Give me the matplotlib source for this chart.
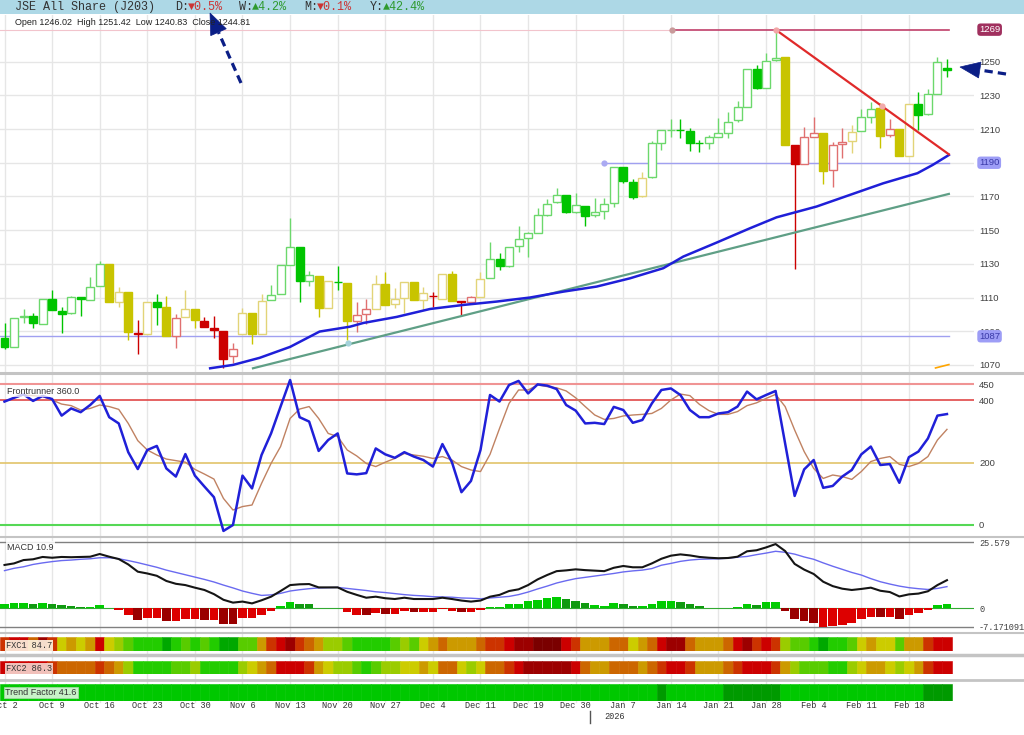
"""JSE All Share (J203) daily chart with Frontrunner, MACD and FXC strips."""
import numpy as np
import matplotlib
matplotlib.use("Agg")
import matplotlib.pyplot as plt
from matplotlib.patches import Rectangle, Polygon

W, H = 1024, 735
MONO = ["Liberation Mono", "DejaVu Sans Mono"]
SANS = ["Liberation Sans", "DejaVu Sans"]

# ---- price candles (trading days from Oct 2 2025) ----
OPEN = [1086.2, 1080.9, 1098.3, 1099.1, 1094.5, 1109.4, 1102.1, 1100.7, 1110.2, 1108.8,
        1116.7, 1129.9, 1107.6, 1113.1, 1088.8, 1088.6, 1107.2, 1104.2, 1087.2, 1098.3,
        1103.2, 1096.3, 1092.2, 1090.4, 1075.2, 1088.2, 1100.7, 1088.6, 1108.4, 1111.8,
        1129.4, 1140.2, 1120.1, 1123.0, 1104.0, 1119.5, 1118.9, 1096.3, 1100.1, 1103.1,
        1118.3, 1106.0, 1109.8, 1119.1, 1108.4, 1111.0, 1109.2, 1124.2, 1107.8, 1107.4,
        1110.6, 1121.4, 1132.9, 1128.9, 1140.4, 1145.2, 1148.5, 1159.0, 1166.5, 1170.7,
        1160.6, 1164.6, 1158.8, 1161.4, 1166.0, 1187.3, 1178.8, 1170.3, 1181.8, 1201.6,
        1209.5, 1209.5, 1208.9, 1201.8, 1201.6, 1205.5, 1207.5, 1215.4, 1223.3, 1245.7,
        1234.6, 1251.0, 1252.6, 1200.6, 1189.1, 1205.1, 1207.9, 1185.7, 1201.0, 1202.9,
        1208.9, 1217.4, 1222.3, 1206.5, 1209.9, 1194.2, 1224.9, 1218.8, 1230.6, 1246.02]
HIGH = [1094.7, 1097.7, 1103.0, 1100.7, 1109.4, 1114.5, 1104.6, 1111.2, 1110.6, 1122.0,
        1131.7, 1129.9, 1116.1, 1113.1, 1096.7, 1107.2, 1111.9, 1111.2, 1100.3, 1114.5,
        1103.2, 1098.7, 1099.3, 1090.4, 1083.3, 1103.6, 1100.7, 1112.3, 1117.5, 1128.8,
        1157.1, 1140.2, 1125.8, 1123.0, 1120.1, 1128.8, 1118.9, 1107.2, 1109.0, 1123.4,
        1125.0, 1115.7, 1119.1, 1119.1, 1116.5, 1113.5, 1124.2, 1125.6, 1108.2, 1111.2,
        1125.4, 1143.0, 1136.3, 1140.2, 1152.5, 1149.1, 1163.4, 1168.3, 1175.2, 1170.7,
        1171.9, 1164.6, 1168.9, 1168.9, 1187.3, 1187.3, 1180.6, 1184.3, 1203.0, 1209.5,
        1216.0, 1216.0, 1210.5, 1203.5, 1206.5, 1216.4, 1220.4, 1226.7, 1245.7, 1248.0,
        1255.0, 1268.8, 1252.6, 1200.6, 1211.1, 1217.4, 1207.9, 1202.2, 1210.5, 1212.4,
        1221.7, 1226.3, 1225.3, 1215.8, 1209.9, 1224.9, 1232.2, 1233.6, 1253.0, 1251.42]
LOW = [1079.3, 1080.5, 1094.7, 1091.8, 1094.1, 1102.3, 1088.8, 1100.3, 1099.3, 1108.8,
       1116.7, 1107.4, 1104.6, 1084.5, 1076.3, 1088.6, 1093.8, 1087.4, 1079.9, 1098.3,
       1091.8, 1092.6, 1085.8, 1068.0, 1071.0, 1088.2, 1082.5, 1088.6, 1108.4, 1111.8,
       1129.4, 1107.4, 1116.9, 1098.5, 1103.6, 1114.5, 1084.9, 1089.8, 1094.3, 1103.1,
       1105.8, 1104.0, 1101.1, 1108.4, 1102.3, 1104.6, 1109.2, 1108.2, 1099.7, 1107.4,
       1110.6, 1121.4, 1126.4, 1128.4, 1137.3, 1134.3, 1148.5, 1158.6, 1166.3, 1160.0,
       1160.0, 1152.5, 1158.0, 1156.7, 1164.0, 1178.2, 1168.5, 1169.9, 1181.2, 1197.6,
       1205.5, 1204.5, 1197.2, 1196.2, 1198.2, 1205.5, 1204.5, 1214.4, 1222.9, 1233.8,
       1234.6, 1250.6, 1200.6, 1126.8, 1189.1, 1205.1, 1177.2, 1175.8, 1192.7, 1196.0,
       1208.9, 1213.4, 1198.6, 1205.5, 1194.2, 1194.2, 1209.5, 1218.4, 1230.6, 1240.83]
CLOSE = [1080.9, 1097.7, 1099.0, 1094.7, 1109.4, 1102.3, 1100.3, 1110.4, 1109.0, 1116.3,
         1129.9, 1107.4, 1113.1, 1089.4, 1088.6, 1107.2, 1104.4, 1087.4, 1097.7, 1103.2,
         1096.7, 1092.6, 1090.6, 1073.6, 1079.3, 1100.7, 1088.6, 1108.0, 1111.4, 1129.4,
         1140.2, 1119.9, 1123.2, 1104.0, 1120.1, 1119.3, 1096.3, 1099.9, 1102.9, 1118.3,
         1105.8, 1109.4, 1119.1, 1108.4, 1112.9, 1110.8, 1124.2, 1108.2, 1107.6, 1110.4,
         1121.1, 1133.1, 1128.9, 1140.2, 1145.0, 1148.5, 1158.8, 1165.6, 1170.7, 1160.8,
         1164.8, 1158.4, 1160.8, 1165.8, 1187.3, 1179.4, 1169.9, 1181.2, 1201.6, 1209.5,
         1209.7, 1209.3, 1202.0, 1201.6, 1205.5, 1207.9, 1214.4, 1222.9, 1245.7, 1234.2,
         1250.6, 1252.4, 1200.6, 1189.3, 1205.1, 1207.9, 1185.1, 1200.6, 1202.5, 1208.5,
         1217.0, 1221.7, 1205.9, 1209.9, 1194.2, 1224.9, 1218.4, 1230.6, 1250.0, 1244.81]
# trend colour of each candle: G green, Y yellow, R red
REGIME = ("GGGGGGGGGGG" "YYY" "R" "Y" "G" "Y" "R" "YY" "RRRR" "YYY" "GGGGG" "YY" "G" "Y"
          "RR" "YYYYYY" "R" "YY" "RR" "Y" "GGGGGGGGGGGGGGGG" "Y" "GGGGGGGGGGGGGG" "Y"
          "RRR" "Y" "RR" "Y" "GG" "Y" "R" "YY" "GGGG")

DATE_LABELS = ["Oct 2", "Oct 9", "Oct 16", "Oct 23", "Oct 30", "Nov 6", "Nov 13",
               "Nov 20", "Nov 27", "Dec 4", "Dec 11", "Dec 19", "Dec 30", "Jan 7",
               "Jan 14", "Jan 21", "Jan 28", "Feb 4", "Feb 11", "Feb 18"]
YEAR_BREAK = 61.5  # between Dec 31 and Jan 2

# moving average (bar index, price)
MA_X = [21.6, 24.0, 26.8, 30.0, 33.1, 36.3, 37.7, 41.2, 44.7, 48.2, 51.7, 55.2, 58.7,
        62.2, 65.7, 69.2, 71.3, 74.8, 78.3, 81.1, 85.3, 88.8, 92.3, 95.9, 97.5, 99.2]
MA_Y = [1068.0, 1070.0, 1074.2, 1080.7, 1089.8, 1092.7, 1094.9, 1098.5, 1103.2, 1105.6,
        1107.6, 1110.0, 1113.5, 1116.5, 1121.4, 1127.4, 1134.3, 1142.6, 1151.1, 1157.6,
        1164.0, 1170.9, 1177.8, 1183.8, 1188.7, 1194.6]
SUPPORT_X = [26.1, 99.2]
SUPPORT_Y = [1068.0, 1171.5]
RESIST_X = [81.0, 99.2]
RESIST_Y = [1269.0, 1195.0]
ORANGE_X = [97.8, 99.2]
ORANGE_Y = [1068.2, 1070.2]
LEVEL_HIGH, LEVEL_HIGH_FROM = 1269, 70.1
LEVEL_MID, LEVEL_MID_FROM = 1190, 63.0
LEVEL_LOW = 1087
ANCHOR_X = [70.1, 81.0, 63.0, 36.1, 92.2]
ANCHOR_Y = [1269.0, 1269.0, 1190.0, 1082.9, 1223.4]
ANCHOR_C = ["#c89a9a", "#f2a6a6", "#aaaaf2", "#a4d2da", "#f2aaaa"]
PRICE_TICKS = [1070, 1090, 1110, 1130, 1150, 1170, 1190, 1210, 1230, 1250]

# ---- Frontrunner 360 ----
FR_FAST = [395, 407, 418, 397, 413, 403, 350, 373, 361, 384,
           413, 345, 325, 233, 179, 240, 253, 181, 155, 227,
           158, 123, 89, -19, 0, 158, 117, 224, 293, 379,
           464, 345, 331, 237, 272, 293, 165, 162, 166, 245,
           226, 215, 233, 219, 208, 187, 259, 201, 105, 141,
           240, 416, 395, 448, 461, 421, 450, 446, 435, 384,
           366, 325, 327, 323, 378, 368, 327, 336, 389, 432,
           437, 416, 368, 345, 345, 357, 361, 379, 427, 402,
           416, 429, 261, 93, 178, 208, 119, 125, 155, 176,
           226, 251, 192, 195, 135, 217, 235, 277, 350, 355]
FR_SLOW = [395, 407, 416, 414, 411, 400, 387, 382, 368, 373,
           384, 379, 370, 325, 270, 240, 224, 211, 206, 201,
           178, 163, 147, 85, 48, 59, 64, 133, 197, 251,
           341, 371, 379, 341, 293, 283, 240, 221, 197, 187,
           201, 213, 229, 224, 220, 213, 219, 208, 187, 176,
           171, 226, 309, 389, 432, 432, 448, 443, 439, 429,
           407, 379, 352, 338, 341, 349, 352, 354, 357, 373,
           400, 419, 414, 386, 366, 354, 354, 363, 382, 391,
           405, 418, 379, 304, 235, 181, 149, 160, 155, 146,
           171, 203, 213, 219, 194, 187, 197, 219, 272, 306]
FR_LEVELS = [450, 400, 200, 0]

# ---- MACD ----
MACD = [16.8, 17.4, 18.7, 19.0, 19.9, 19.6, 19.9, 19.8, 19.9, 20.0,
        21.05, 20.0, 19.1, 17.0, 14.2, 13.5, 12.6, 10.6, 9.5, 9.0,
        8.0, 7.1, 5.5, 3.3, 2.2, 2.6, 1.9, 3.1, 4.5, 6.7,
        9.0, 9.3, 9.4, 8.1, 8.1, 8.1, 6.4, 5.2, 4.1, 4.5,
        3.9, 3.6, 4.1, 3.6, 3.6, 3.6, 4.1, 3.6, 3.0, 2.6,
        3.0, 4.5, 5.2, 6.7, 7.35, 9.0, 11.2, 12.9, 14.4, 14.7,
        15.1, 14.8, 14.6, 14.4, 15.7, 16.4, 15.9, 15.9, 17.4, 19.2,
        20.4, 20.9, 20.5, 19.9, 19.6, 19.4, 19.5, 20.0, 22.1, 22.5,
        23.6, 24.9, 22.2, 17.2, 15.0, 13.3, 10.3, 8.6, 7.6, 7.1,
        7.5, 8.0, 6.8, 6.3, 4.6, 5.4, 5.7, 6.6, 9.0, 10.9]
SIGNAL = [14.6, 15.5, 16.1, 17.0, 17.6, 18.1, 18.5, 18.7, 19.0, 19.2,
          19.6, 19.6, 19.2, 18.5, 17.7, 16.8, 15.9, 14.8, 13.9, 13.0,
          12.1, 11.2, 10.2, 9.0, 7.9, 6.7, 5.8, 5.0, 5.2, 5.8,
          6.7, 7.2, 7.6, 7.9, 8.0, 8.1, 7.7, 7.3, 6.9, 6.4,
          6.1, 5.7, 5.3, 5.0, 4.8, 4.5, 4.4, 4.3, 4.0, 3.9,
          3.7, 4.0, 4.3, 4.6, 5.3, 6.3, 7.5, 8.6, 9.8, 10.7,
          11.5, 12.0, 12.5, 13.0, 13.5, 14.1, 14.5, 14.8, 15.4, 16.7,
          17.4, 18.2, 18.7, 19.0, 19.1, 19.2, 19.4, 19.8, 20.1, 20.8,
          21.4, 22.1, 21.7, 21.0, 19.9, 19.0, 17.6, 16.3, 15.1, 13.9,
          12.9, 11.5, 10.3, 9.4, 8.6, 8.0, 7.6, 7.3, 7.7, 8.4]
HIST = [1.55, 2.2, 2.2, 1.8, 2.2, 1.55, 1.2, 0.9, 0.65, 0.65,
        1.2, 0.1, -0.8, -2.7, -4.4, -3.7, -3.7, -5.0, -4.8, -4.3,
        -4.3, -4.7, -4.7, -5.9, -5.9, -3.7, -3.7, -2.5, -1.0, 0.8,
        2.5, 1.8, 1.55, 0.3, 0.3, 0.1, -1.4, -2.5, -2.7, -1.7,
        -2.2, -2.2, -1.2, -1.4, -1.3, -1.4, -0.4, -0.9, -1.4, -1.4,
        -0.6, 0.4, 0.6, 1.55, 1.8, 2.8, 3.4, 3.9, 4.5, 3.7,
        3.0, 2.2, 1.4, 1.0, 1.9, 1.7, 0.9, 0.8, 1.7, 2.8,
        2.8, 2.3, 1.7, 0.8, 0.25, 0.05, 0.1, 0.4, 1.7, 1.4,
        2.3, 2.6, -1.0, -4.0, -5.0, -5.6, -7.17, -6.8, -6.3, -5.6,
        -4.3, -3.4, -3.4, -3.4, -4.0, -2.5, -1.9, -0.8, 1.3, 1.7]
# G bright green, g dark green, R bright red, r dark red
HIST_SHADE = ("GGGgGggggGG" "G" "RRrRRrRRRrRrrRRRR" "GGggGGG" "RRrRrRRrRRRRrRR" "GGG"
              "GGGGGgggGGGggGGGGgggGGGGGgGG" "rrrrRRRRRRrRrRRR" "GG")
MACD_MAX, MACD_MIN = 25.579, -7.171091

# ---- FXC heat strips, level 0 (deep red) .. 10 (deep green) ----
FXC1 = [3, 2, 2, 4, 1, 3, 6, 5, 6, 5, 2, 6, 7, 8, 9, 9, 9, 10, 9, 8,
        9, 8, 9, 10, 10, 8, 8, 5, 3, 2, 1, 3, 4, 5, 7, 7, 8, 9, 9, 9,
        9, 8, 7, 8, 6, 5, 4, 5, 5, 5, 4, 3, 3, 2, 1, 1, 0, 0, 0, 2,
        3, 5, 5, 5, 4, 4, 6, 5, 4, 2, 1, 1, 4, 5, 5, 5, 4, 2, 1, 3,
        2, 3, 7, 8, 8, 9, 10, 9, 9, 8, 6, 5, 6, 6, 8, 5, 5, 3, 2, 2]
FXC2 = [2, 2, 2, 2, 2, 3, 4, 4, 4, 4, 3, 4, 5, 7, 9, 9, 9, 9, 8, 8,
        7, 9, 9, 9, 9, 7, 6, 5, 4, 2, 2, 2, 3, 5, 6, 7, 7, 8, 9, 8,
        7, 7, 6, 6, 5, 6, 4, 4, 6, 7, 6, 4, 4, 3, 2, 1, 1, 1, 1, 1,
        2, 4, 5, 5, 4, 4, 4, 5, 4, 3, 2, 2, 3, 5, 5, 5, 4, 3, 2, 2,
        2, 3, 5, 7, 8, 8, 8, 9, 9, 7, 6, 5, 5, 6, 7, 6, 5, 3, 2, 2]
TREND_DARK = [69, 76, 77, 78, 79, 80, 81, 97, 98, 99]
FXC1_LAST, FXC2_LAST, TREND_LAST, FR_LAST = 84.7, 86.3, 41.6, 360.0
CHANGES = [("D:", "\u25bc0.5%", "dn"), ("W:", "\u25b24.2%", "up"),
           ("M:", "\u25bc0.1%", "dn"), ("Y:", "\u25b242.4%", "up")]

HEAT = ["#7a0000", "#9c0000", "#cc0000", "#cc3300", "#cc6600", "#cc9a00",
        "#cccc00", "#9acc00", "#58cc00", "#22cc00", "#00a800"]
CANDLE = {"G": ("#00c400", "#6cd86c"), "Y": ("#c8c400", "#e2d478"), "R": ("#cc0000", "#e07070")}
HIST_COL = {"G": "#00cc00", "g": "#109a10", "R": "#dd0000", "r": "#9a0000"}
NAVY = "#0b1e86"
GRID = "#e6e6e6"

n = len(CLOSE)
idx = np.arange(n)
XL = (-0.4727, 101.84)


def px_axes(fig, left, top, right, bottom):
    ax = fig.add_axes([left / W, 1 - bottom / H, (right - left) / W, (bottom - top) / H])
    ax.set_facecolor("none")
    for s in ax.spines.values():
        s.set_visible(False)
    ax.set_xticks([])
    return ax


def right_ticks(ax, ticks, labels=None, family=SANS, size=6.8):
    ax.yaxis.tick_right()
    ax.set_yticks(ticks)
    if labels is not None:
        ax.set_yticklabels(labels)
    ax.tick_params(axis="y", length=0, pad=3.6, labelsize=size, labelcolor="#404040")
    for t in ax.get_yticklabels():
        t.set_fontfamily(family)


def dashed_arrow(ax, tail, tip, head_len, head_w):
    tail, tip = np.asarray(tail, float), np.asarray(tip, float)
    u = (tip - tail) / np.hypot(*(tip - tail))
    base = tip - u * head_len
    perp = np.array([-u[1], u[0]]) * head_w / 2
    ax.plot([tail[0], base[0]], [tail[1], base[1]], color=NAVY, lw=2.3,
            ls=(0, (2.6, 1.6)), solid_capstyle="butt", dash_capstyle="butt")
    ax.add_patch(Polygon([tip, base + perp, base - perp], closed=True, fc=NAVY, ec=NAVY, lw=0.5))


fig = plt.figure(figsize=(W / 100, H / 100), dpi=100)
fig.patch.set_facecolor("white")

# background: vertical grid, date labels
bg = px_axes(fig, 0, 15, 974, 735)
bg.set_xlim(XL)
bg.set_ylim(735, 15)
bg.set_yticks([])
for k, lab in enumerate(DATE_LABELS):
    x = 5 * k
    bg.plot([x, x], [15, 702], color=GRID, lw=1, zorder=0)
    bg.text(x, 706, lab, ha="center", va="center", fontsize=6.2, family=MONO, color="#333")
bg.plot([YEAR_BREAK, YEAR_BREAK], [711, 723], color="#555", lw=1)
bg.text(YEAR_BREAK + 1.5, 717, "2026", ha="left", va="center", fontsize=6.2, family=MONO, color="#333")

# price panel
ax = px_axes(fig, 0, 15, 974, 373)
ax.set_xlim(XL)
ax.set_ylim(1065.2, 1277.7)
right_ticks(ax, PRICE_TICKS)
for p in PRICE_TICKS:
    ax.axhline(p, color=GRID, lw=1, zorder=0)
ax.plot([XL[0], LEVEL_HIGH_FROM], [LEVEL_HIGH] * 2, color="#f2c4cc", lw=0.8, zorder=1)
ax.plot([LEVEL_HIGH_FROM, RESIST_X[1]], [LEVEL_HIGH] * 2, color="#c0406a", lw=1.2, zorder=1)
ax.plot([LEVEL_MID_FROM, RESIST_X[1]], [LEVEL_MID] * 2, color="#a0a0f0", lw=1, zorder=1)
ax.plot([XL[0], RESIST_X[1]], [LEVEL_LOW] * 2, color="#a0a0f0", lw=1, zorder=1)

for i in range(n):
    fill, light = CANDLE[REGIME[i]]
    o, c = OPEN[i], CLOSE[i]
    hollow = c >= o
    edge = light if hollow else fill
    ax.vlines(i, LOW[i], HIGH[i], color=edge, lw=1, zorder=2)
    ax.bar(i, max(abs(c - o), 0.15), bottom=min(o, c), width=0.84,
           color="white" if hollow else fill, edgecolor=edge, lw=1, zorder=3)

ax.plot(SUPPORT_X, SUPPORT_Y, color="#5f9f86", lw=1.6, zorder=4)
ax.plot(MA_X, MA_Y, color="#1f1fd8", lw=1.8, zorder=4)
ax.plot(RESIST_X, RESIST_Y, color="#e02a2a", lw=1.6, zorder=4)
ax.plot(ORANGE_X, ORANGE_Y, color="#ffa500", lw=1.2, zorder=4)
for x, y, col in zip(ANCHOR_X, ANCHOR_Y, ANCHOR_C):
    ax.plot(x, y, "o", ms=4.5, color=col, mec="none", zorder=5)

ytr = ax.get_yaxis_transform()
for val, fc, tc in [(LEVEL_HIGH, "#a0305e", "white"), (LEVEL_MID, "#9d9df6", "#3a3aa8"),
                    (LEVEL_LOW, "#9d9df6", "#3a3aa8")]:
    ax.text(1 + 5 / 974, val, f"{val}", transform=ytr, ha="left", va="center", fontsize=6.8,
            family=SANS, color=tc, clip_on=False, zorder=6,
            bbox=dict(boxstyle="round,pad=0.18,rounding_size=0.35", fc=fc, ec="none"))

# Frontrunner panel
fr = px_axes(fig, 0, 375, 974, 535)
fr.set_xlim(XL)
fr.set_ylim(-32, 480)
right_ticks(fr, FR_LEVELS)
for lvl, col, lw in zip(FR_LEVELS, ["#f09494", "#e04848", "#e2c46a", "#55d855"], [1.5, 1.2, 1.2, 1.5]):
    fr.axhline(lvl, color=col, lw=lw, zorder=1)
fr.plot(idx, FR_SLOW, color="#c08262", lw=1.0, zorder=2)
fr.plot(idx, FR_FAST, color="#2020d8", lw=1.8, zorder=3)
fr.text(7 / 974, 1 - 16 / 160, f"Frontrunner {FR_LAST:.1f}", transform=fr.transAxes, ha="left",
        va="center", fontsize=6.5, family=SANS, color="#333", zorder=5,
        bbox=dict(boxstyle="square,pad=0.15", fc="white", ec="none", alpha=0.75))

# MACD panel
md = px_axes(fig, 0, 537, 974, 632)
md.set_xlim(XL)
md.set_ylim(-9.19, 27.64)
right_ticks(md, [MACD_MIN, 0, MACD_MAX], ["-7.171091", "0", "25.579"], family=MONO, size=6.2)
md.axhline(MACD_MAX, color="#808080", lw=1, zorder=1)
md.axhline(MACD_MIN, color="#808080", lw=1, zorder=1)
md.axhline(0, color="#33aa33", lw=0.8, zorder=1)
md.bar(idx, HIST, width=0.9, color=[HIST_COL[s] for s in HIST_SHADE], lw=0, zorder=2)
md.plot(idx, SIGNAL, color="#6a6af0", lw=1.0, zorder=3)
md.plot(idx, MACD, color="#151515", lw=1.5, zorder=4)
md.text(7 / 974, 1 - 10 / 95, f"MACD {MACD[-1]:.1f}", transform=md.transAxes, ha="left",
        va="center", fontsize=6.5, family=SANS, color="#333", zorder=5,
        bbox=dict(boxstyle="square,pad=0.15", fc="white", ec="none", alpha=0.85))


# heat strips
def strip(top, bottom, colors):
    s = px_axes(fig, 0, top, 974, bottom)
    s.set_xlim(XL)
    s.set_ylim(0, 1)
    s.set_yticks([])
    s.bar(idx, 1, width=1.0, color=colors, edgecolor=colors, lw=0.4)
    return s


s1 = strip(637, 651, [HEAT[v] for v in FXC1])
s1.text(6 / 974, 0.4, f"FXC1 {FXC1_LAST}", transform=s1.transAxes, ha="left", va="center",
        fontsize=6.2, family=MONO, color="#333",
        bbox=dict(boxstyle="square,pad=0.12", fc="#fff6e4", ec="none", alpha=0.9))
s2 = strip(661, 674, [HEAT[v] for v in FXC2])
s2.text(6 / 974, 0.4, f"FXC2 {FXC2_LAST}", transform=s2.transAxes, ha="left", va="center",
        fontsize=6.2, family=MONO, color="#333",
        bbox=dict(boxstyle="square,pad=0.12", fc="#f6d6d0", ec="none", alpha=0.9))
s3 = strip(684, 701, ["#009a00" if i in TREND_DARK else "#00c800" for i in idx])
s3.text(5 / 974, 0.5, f"Trend Factor {TREND_LAST}", transform=s3.transAxes, ha="left",
        va="center", fontsize=6.5, family=SANS, color="#333",
        bbox=dict(boxstyle="square,pad=0.15", fc="#c8f2c8", ec="#a0d8a0", lw=0.6))

# overlay in pixel space: title bar, separators, arrows
ov = fig.add_axes([0, 0, 1, 1])
ov.set_xlim(0, W)
ov.set_ylim(H, 0)
ov.axis("off")
ov.add_patch(Rectangle((0, 0), W, 13.5, fc="#add8e6", ec="none"))
ov.text(15, 7, "JSE All Share (J203)", ha="left", va="center", fontsize=8.5, family=MONO, color="#333")
for x, (lab, val, way) in zip([175, 239, 304, 370], CHANGES):
    ov.text(x, 7, lab, ha="left", va="center", fontsize=8.5, family=MONO, color="#333")
    ov.text(x + 13, 7, val, ha="left", va="center", fontsize=8.5, family=MONO,
            color="#cc3333" if way == "dn" else "#2f9a2f")
ov.text(15, 22, f"Open {OPEN[-1]:.2f}  High {HIGH[-1]:.2f}  Low {LOW[-1]:.2f}  Close {CLOSE[-1]:.2f}",
        ha="left", va="center", fontsize=6.5, family=SANS, color="#222")
for y, lw in [(373, 2.2), (536.5, 1.5), (632.5, 1.5), (655, 2.5), (680, 2.0)]:
    ov.plot([0, W], [y, y], color="#c4c4c4", lw=lw)
dashed_arrow(ov, (241, 83), (210, 13), 21, 17)
dashed_arrow(ov, (1006, 74), (960, 67), 20, 16)

fig.savefig("out.png", dpi=100)
